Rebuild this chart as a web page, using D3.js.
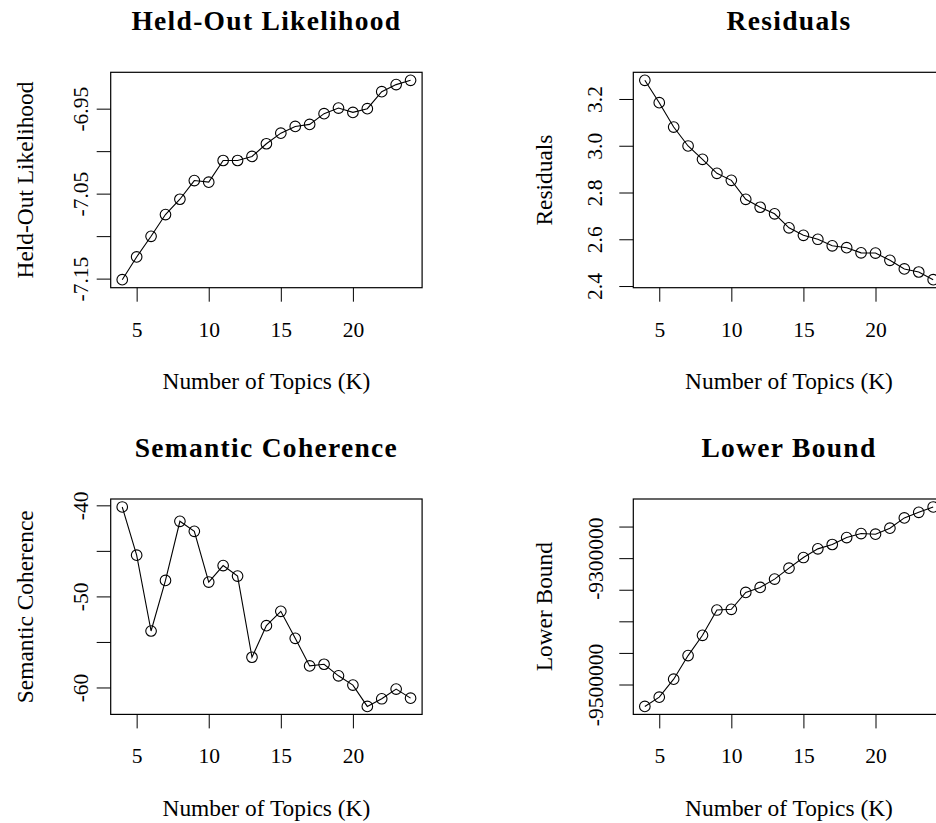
<!DOCTYPE html>
<html>
<head>
<meta charset="utf-8">
<script src="https://cdn.jsdelivr.net/npm/d3@7"></script>
<style>
  html, body { margin: 0; padding: 0; background: #fff; overflow: hidden; }
  svg { display: block; font-family: "Liberation Serif", "Times New Roman", serif; }
</style>
</head>
<body>
<svg id="chart" width="936" height="823"></svg>
<script>
// Number of topics evaluated
const topicsK = [4, 5, 6, 7, 8, 9, 10, 11, 12, 13, 14, 15, 16, 17, 18, 19, 20, 21, 22, 23, 24];

// Diagnostic values for each K
const heldOut = [-7.1513, -7.1245, -7.1002, -7.0746, -7.0566, -7.0346, -7.0365, -7.0110, -7.0110, -7.0062,
                 -6.9913, -6.9788, -6.9709, -6.9685, -6.9559, -6.9493, -6.9544, -6.9500, -6.9300, -6.9217, -6.9166];
const residuals = [3.280, 3.184, 3.080, 2.999, 2.942, 2.882, 2.852, 2.771, 2.737, 2.709,
                   2.649, 2.617, 2.600, 2.572, 2.564, 2.542, 2.541, 2.510, 2.473, 2.460, 2.427];
const semCoherence = [-40.18, -45.47, -53.80, -48.25, -41.75, -42.85, -48.43, -46.61, -47.77, -56.68,
                      -53.21, -51.64, -54.60, -57.63, -57.45, -58.72, -59.74, -62.08, -61.24, -60.18, -61.17];
const lowerBound = [-9534700, -9520000, -9491600, -9454200, -9422100, -9382100, -9381000, -9354200, -9346300, -9333200,
                    -9315800, -9299000, -9285300, -9278400, -9267400, -9261100, -9262100, -9252600, -9236300, -9227400, -9219000];

// Axis ticks and the labels printed beside them ("" = tick without label)
const xTicks = [5, 10, 15, 20];
const heldOutTicks = [-7.15, -7.10, -7.05, -7.00, -6.95];
const heldOutTickLabels = ["-7.15", "", "-7.05", "", "-6.95"];
const residualTicks = [2.4, 2.6, 2.8, 3.0, 3.2];
const residualTickLabels = ["2.4", "2.6", "2.8", "3.0", "3.2"];
const semTicks = [-60, -55, -50, -45, -40];
const semTickLabels = ["-60", "", "-50", "", "-40"];
const boundTicks = [-9500000, -9450000, -9400000, -9350000, -9300000, -9250000];
const boundTickLabels = ["-9500000", "", "", "", "-9300000", ""];

// Panel titles and axis titles
const panelTitles = ["Held-Out Likelihood", "Residuals", "Semantic Coherence", "Lower Bound"];
const yTitles = ["Held-Out Likelihood", "Residuals", "Semantic Coherence", "Lower Bound"];
const xTitle = "Number of Topics (K)";

const svg = d3.select("#chart");

const panels = [
  { values: heldOut,      ticks: heldOutTicks,  labels: heldOutTickLabels,  left: 110.7, top: 72.3, tickOff: 22.4, yTitleOff: 77.4 },
  { values: residuals,    ticks: residualTicks, labels: residualTickLabels, left: 633.3, top: 72.3, tickOff: 31.0, yTitleOff: 81.6 },
  { values: semCoherence, ticks: semTicks,      labels: semTickLabels,      left: 110.7, top: 499,  tickOff: 22.4, yTitleOff: 77.4 },
  { values: lowerBound,   ticks: boundTicks,    labels: boundTickLabels,    left: 633.3, top: 499,  tickOff: 30.5, yTitleOff: 81.6 }
];

const boxW = 311.4, boxH = 215.4;
const tickLen = 14;

// R-style 4% padded range
function padded(ext) {
  const d = (ext[1] - ext[0]) * 0.04;
  return [ext[0] - d, ext[1] + d];
}

panels.forEach((p, i) => {
  const g = svg.append("g").attr("transform", `translate(${p.left},${p.top})`);

  const x = d3.scaleLinear().domain(padded(d3.extent(topicsK))).range([0, boxW]);
  const y = d3.scaleLinear().domain(padded(d3.extent(p.values))).range([boxH, 0]);

  // x axis
  const xa = g.append("g").attr("transform", `translate(0,${boxH})`)
    .call(d3.axisBottom(x).tickValues(xTicks).tickSize(tickLen).tickSizeOuter(0).tickFormat(d3.format("d")));
  xa.select(".domain").remove();
  xa.selectAll("line").attr("stroke", "#000").attr("stroke-width", 1);
  xa.selectAll("text")
    .attr("y", 49).attr("dy", null)
    .attr("fill", "#000")
    .style("font-size", "21.5px")
    .style("font-family", "'Liberation Serif', serif");

  // y axis with labels rotated parallel to the axis
  const ya = g.append("g")
    .call(d3.axisLeft(y).tickValues(p.ticks).tickSize(tickLen).tickSizeOuter(0)
      .tickFormat((d, j) => p.labels[j]));
  ya.select(".domain").remove();
  ya.selectAll("line").attr("stroke", "#000").attr("stroke-width", 1);
  ya.selectAll("text")
    .attr("x", null).attr("dy", null)
    .attr("text-anchor", "middle")
    .attr("transform", `translate(${-p.tickOff},0) rotate(-90)`)
    .attr("fill", "#000")
    .style("font-size", "21.5px")
    .style("font-family", "'Liberation Serif', serif");

  // plot box
  g.append("rect")
    .attr("x", 0).attr("y", 0).attr("width", boxW).attr("height", boxH)
    .attr("fill", "none").attr("stroke", "#000").attr("stroke-width", 1.2);

  // connecting line and open circles
  const pts = topicsK.map((k, j) => [x(k), y(p.values[j])]);
  g.append("path")
    .attr("d", d3.line()(pts))
    .attr("fill", "none").attr("stroke", "#000").attr("stroke-width", 1.1);
  g.selectAll("circle.pt").data(pts).join("circle")
    .attr("class", "pt")
    .attr("cx", d => d[0]).attr("cy", d => d[1]).attr("r", 5.3)
    .attr("fill", "none").attr("stroke", "#000").attr("stroke-width", 1.1);

  // panel title
  g.append("text")
    .attr("x", boxW / 2).attr("y", -42)
    .attr("text-anchor", "middle")
    .style("font-size", "27.5px").style("font-weight", "bold").style("letter-spacing", "1.3px")
    .text(panelTitles[i]);

  // x title
  g.append("text")
    .attr("x", boxW / 2).attr("y", boxH + 101.5)
    .attr("text-anchor", "middle")
    .style("font-size", "23.4px")
    .text(xTitle);

  // y title
  g.append("text")
    .attr("transform", `translate(${-p.yTitleOff},${boxH / 2}) rotate(-90)`)
    .attr("text-anchor", "middle")
    .style("font-size", "23.4px")
    .text(yTitles[i]);
});
</script>
</body>
</html>
